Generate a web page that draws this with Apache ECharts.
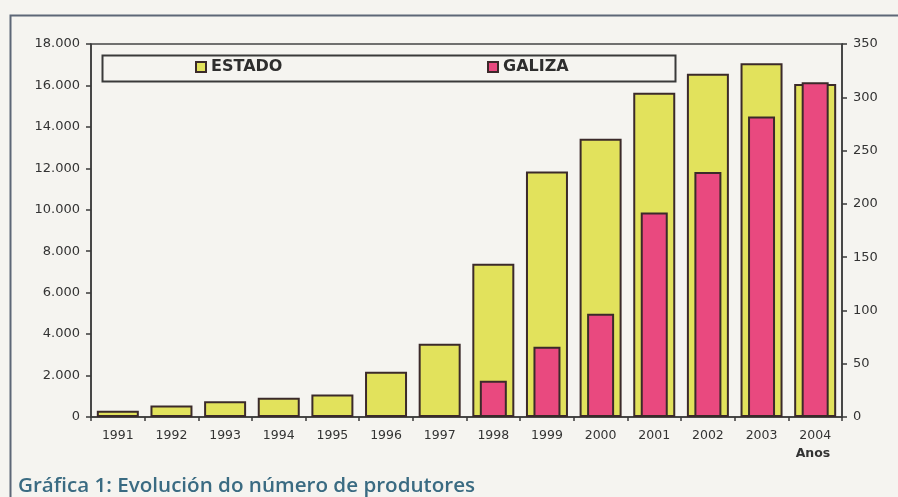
<!DOCTYPE html>
<html>
<head>
<meta charset="utf-8">
<script src="https://cdn.jsdelivr.net/npm/echarts@6/dist/echarts.min.js"></script>
<style>
  html, body { margin: 0; padding: 0; background: #f5f4f0; }
  #chart { width: 898px; height: 497px; }
</style>
</head>
<body>
<div id="chart"></div>
<script>
// ---- data ----
const years = ['1991','1992','1993','1994','1995','1996','1997','1998','1999','2000','2001','2002','2003','2004'];
const estado = [300, 560, 760, 930, 1080, 2180, 3530, 7400, 11850, 13430, 15650, 16570, 17070, 16070];
const galiza = [null, null, null, null, null, null, null, 34, 66, 97, 192, 230, 282, 314];
const seriesNames = ['ESTADO', 'GALIZA'];
const xAxisTitle = 'Anos';
const caption = 'Gráfica 1: Evolución do número de produtores';

const fmtThousands = v => String(v).replace(/\B(?=(\d{3})+(?!\d))/g, '.');

const chart = echarts.init(document.getElementById('chart'), null, { renderer: 'canvas' });
const axisColor = '#3a3a3a';
const labelFont = { fontFamily: 'DejaVu Sans', fontSize: 13, color: '#333' };
const legendBase = {
  top: 59, padding: 0,
  itemWidth: 10, itemHeight: 10, itemGap: 0,
  icon: 'rect',
  textStyle: { fontFamily: 'DejaVu Sans', fontSize: 16, fontWeight: 'bold', color: '#2e2e2e' }
};

chart.setOption({
  backgroundColor: '#f5f4f0',
  animation: false,
  grid: {
    left: 91, right: 56, top: 44, height: 373,
    show: true, borderColor: '#444', borderWidth: 1.5, backgroundColor: 'transparent'
  },
  legend: [
    Object.assign({ data: [seriesNames[0]], left: 195 }, legendBase),
    Object.assign({ data: [seriesNames[1]], left: 487 }, legendBase)
  ],
  xAxis: [
    {
      type: 'category', data: years, position: 'bottom',
      axisLine: { lineStyle: { color: axisColor, width: 1.5 } },
      axisTick: { show: true, length: 4, lineStyle: { color: axisColor, width: 1.5 } },
      axisLabel: Object.assign({ margin: 12 }, labelFont, { fontSize: 12.5 }),
      name: xAxisTitle, nameLocation: 'end', nameGap: 0,
      nameTextStyle: { fontFamily: 'DejaVu Sans', fontSize: 12.5, fontWeight: 'bold', color: '#333',
        align: 'center', verticalAlign: 'top', padding: [30, 0, 0, -58] }
    },
    { type: 'category', data: years, show: false }
  ],
  yAxis: [
    {
      type: 'value', min: 0, max: 18000, interval: 2000, position: 'left',
      splitLine: { show: false },
      axisLine: { show: true, lineStyle: { color: axisColor, width: 1.5 } },
      axisTick: { show: true, length: 5, lineStyle: { color: axisColor, width: 1.5 } },
      axisLabel: Object.assign({ margin: 11, formatter: fmtThousands }, labelFont)
    },
    {
      type: 'value', min: 0, max: 350, interval: 50, position: 'right',
      splitLine: { show: false },
      axisLine: { show: true, lineStyle: { color: axisColor, width: 1.5 } },
      axisTick: { show: true, length: 5, lineStyle: { color: axisColor, width: 1.5 } },
      axisLabel: Object.assign({ margin: 11 }, labelFont)
    }
  ],
  series: [
    {
      name: seriesNames[0], type: 'bar', xAxisIndex: 0, yAxisIndex: 0,
      data: estado, barWidth: 42,
      itemStyle: { color: '#e2e25c', borderColor: '#3b2a2a', borderWidth: 2 }
    },
    {
      name: seriesNames[1], type: 'bar', xAxisIndex: 1, yAxisIndex: 1,
      data: galiza, barWidth: 27,
      itemStyle: { color: '#e9497f', borderColor: '#3b2a2a', borderWidth: 2 }
    }
  ],
  graphic: [
    { type: 'rect', left: 8, top: 13, shape: { width: 900, height: 500 },
      style: { fill: 'none', stroke: '#5d6777', lineWidth: 2 }, silent: true, z: -1 },
    { type: 'rect', left: 100, top: 53, shape: { width: 573, height: 26 },
      style: { fill: 'none', stroke: '#3a3a3a', lineWidth: 2 }, silent: true, z: 10 },
    { type: 'text', left: 18, top: 476,
      style: { text: caption, font: '600 20.6px "Open Sans"', fill: '#3a6b82' } }
  ]
});
</script>
</body>
</html>
